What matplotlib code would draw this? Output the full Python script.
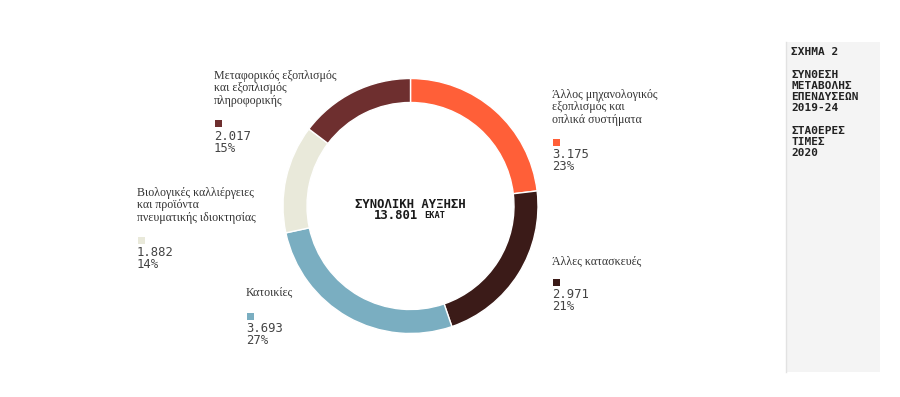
import matplotlib.pyplot as plt
from matplotlib.patches import Rectangle

# data (clockwise from 12 o'clock)
categories = [
    "Άλλος μηχανολογικός\nεξοπλισμός και\nοπλικά συστήματα",
    "Άλλες κατασκευές",
    "Κατοικίες",
    "Βιολογικές καλλιέργειες\nκαι προϊόντα\nπνευματικής ιδιοκτησίας",
    "Μεταφορικός εξοπλισμός\nκαι εξοπλισμός\nπληροφορικής",
]
values = [3175, 2971, 3693, 1882, 2017]
shares = ["23%", "21%", "27%", "14%", "15%"]
total_label = "13.801"

colors = ["#FF5F38", "#3B1B18", "#7AAEC1", "#E9E9DA", "#6E2F2F"]

W, H = 900, 397

# label layout in pixels: (x left, y of first text line, y of square)
label_pos = [
    (552, 95, 142),
    (552, 262, 282),
    (246, 293, 316),
    (137, 193, 240),
    (214, 76, 123),
]

fig = plt.figure(figsize=(9, 3.97), dpi=100)
ax = fig.add_axes([0, 0, 1, 1])

ax.pie(values, colors=colors, startangle=90, counterclock=False,
       center=(410.5, H - 206), radius=127.5,
       wedgeprops=dict(width=24, edgecolor="white", linewidth=1))
ax.set_xlim(0, W)
ax.set_ylim(0, H)
ax.set_aspect("equal")
ax.axis("off")

serif = "Liberation Serif"
mono = "DejaVu Sans Mono"

for cat, v, pct, col, (x, y0, ysq) in zip(categories, values, shares, colors, label_pos):
    for i, line in enumerate(cat.split("\n")):
        ax.text(x, H - y0 - i * 12.3, line, family=serif, fontsize=8.6,
                color="#333333", va="center", ha="left")
    ax.add_patch(Rectangle((x + 1, H - ysq - 3.5), 7, 7, facecolor=col, edgecolor="none"))
    num = f"{v:,}".replace(",", ".")
    ax.text(x, H - ysq - 13, num, family=mono, fontsize=8.8, color="#444444",
            va="center", ha="left")
    ax.text(x, H - ysq - 25, pct, family=mono, fontsize=8.8, color="#444444",
            va="center", ha="left")

# centre text
ax.text(410.5, H - 204, "ΣΥΝΟΛΙΚΗ ΑΥΞΗΣΗ", family=mono, fontsize=8.8,
        fontweight="bold", color="#1a1a1a", ha="center", va="center")
ax.text(418, H - 215.5, total_label, family=mono, fontsize=8.8,
        fontweight="bold", color="#1a1a1a", ha="right", va="center")
ax.text(424, H - 215.5, "ΕΚΑΤ", family=mono, fontsize=6.2,
        fontweight="bold", color="#1a1a1a", ha="left", va="center")

# side panel
ax.add_patch(Rectangle((786, H - 372), 94, 330, facecolor="#F4F4F4",
                       edgecolor="none"))
ax.plot([786, 786], [H - 372, H - 42], color="#E2E2E2", linewidth=1)

panel_lines = [
    (52, "ΣΧΗΜΑ 2"),
    (75, "ΣΥΝΘΕΣΗ"), (86, "ΜΕΤΑΒΟΛΗΣ"), (97, "ΕΠΕΝΔΥΣΕΩΝ"), (108, "2019-24"),
    (131, "ΣΤΑΘΕΡΕΣ"), (142, "ΤΙΜΕΣ"), (152.5, "2020"),
]
for y, t in panel_lines:
    ax.text(791, H - y, t, family=mono, fontsize=8, fontweight="bold",
            color="#222222", ha="left", va="center")

fig.savefig("out.png", dpi=100, facecolor="white")
